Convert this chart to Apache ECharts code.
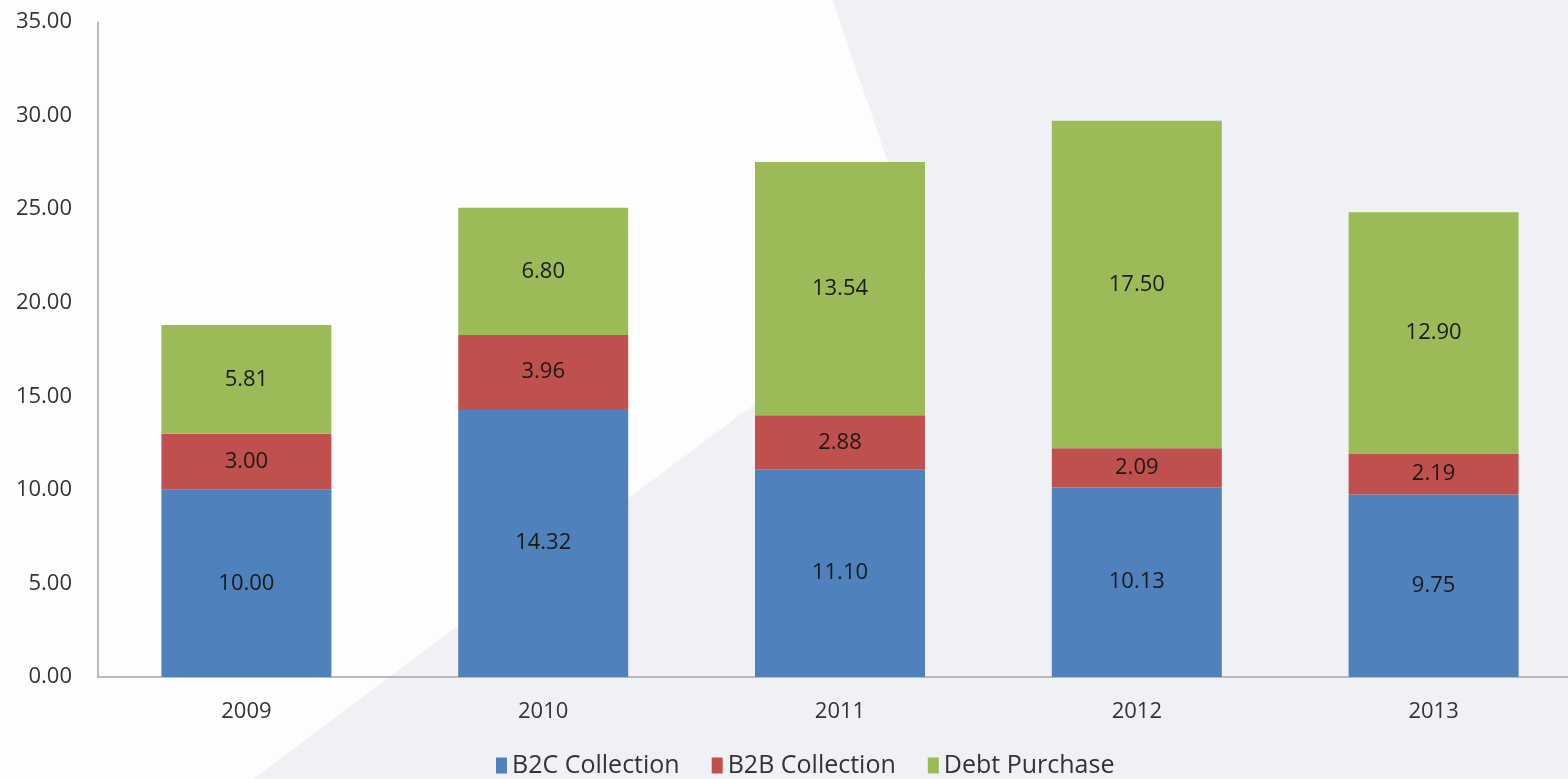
<!DOCTYPE html>
<html>
<head>
<meta charset="utf-8">
<script src="https://cdn.jsdelivr.net/npm/echarts@6/dist/echarts.min.js"></script>
<style>
  html, body { margin: 0; padding: 0; background: #fff; }
  #chart { width: 1568px; height: 779px; }
</style>
</head>
<body>
<div id="chart"></div>
<script>
const years = ['2009', '2010', '2011', '2012', '2013'];
const b2cCollection = [10.00, 14.32, 11.10, 10.13, 9.75];
const b2bCollection = [3.00, 3.96, 2.88, 2.09, 2.19];
const debtPurchase = [5.81, 6.80, 13.54, 17.50, 12.90];

const font = '"Open Sans", "Noto Sans", sans-serif';
const chart = echarts.init(document.getElementById('chart'));

function stackSeries(name, data, color) {
  return {
    name: name,
    type: 'bar',
    stack: 'total',
    data: data,
    barWidth: 170,
    itemStyle: { color: color },
    label: {
      show: true,
      position: 'inside',
      formatter: p => p.value.toFixed(2),
      color: '#1a1a1a',
      fontFamily: font,
      fontSize: 22
    },
    emphasis: { disabled: true }
  };
}

chart.setOption({
  backgroundColor: '#fdfdfd',
  animation: false,
  // light grey backdrop shape behind the plot
  graphic: [{
    type: 'polygon',
    z: -10,
    silent: true,
    shape: { points: [[833, 0], [1568, 0], [1568, 779], [253, 779], [926, 276]] },
    style: { fill: '#f0f1f5' }
  }],
  grid: { left: 98, width: 1484, top: 22, height: 655, outerBoundsMode: 'none', containLabel: false },
  legend: {
    bottom: -4,
    left: 491,
    itemWidth: 11,
    itemHeight: 16,
    itemGap: 32,
    icon: 'rect',
    textStyle: { fontFamily: font, fontSize: 25, color: '#333' },
    data: ['B2C Collection', 'B2B Collection', 'Debt Purchase']
  },
  xAxis: {
    type: 'category',
    data: years,
    axisLine: { lineStyle: { color: '#a6a6a6', width: 1.5 } },
    axisTick: { show: false },
    axisLabel: { fontFamily: font, fontSize: 22, color: '#333', margin: 24 }
  },
  yAxis: {
    type: 'value',
    min: 0,
    max: 35,
    interval: 5,
    axisLine: { show: true, lineStyle: { color: '#a6a6a6', width: 1.5 } },
    axisTick: { show: false },
    splitLine: { show: false },
    axisLabel: {
      fontFamily: font, fontSize: 22, color: '#333', margin: 26,
      formatter: v => v.toFixed(2)
    }
  },
  series: [
    stackSeries('B2C Collection', b2cCollection, '#4f81bd'),
    stackSeries('B2B Collection', b2bCollection, '#c0504d'),
    stackSeries('Debt Purchase', debtPurchase, '#9bbb59')
  ]
});
</script>
</body>
</html>
